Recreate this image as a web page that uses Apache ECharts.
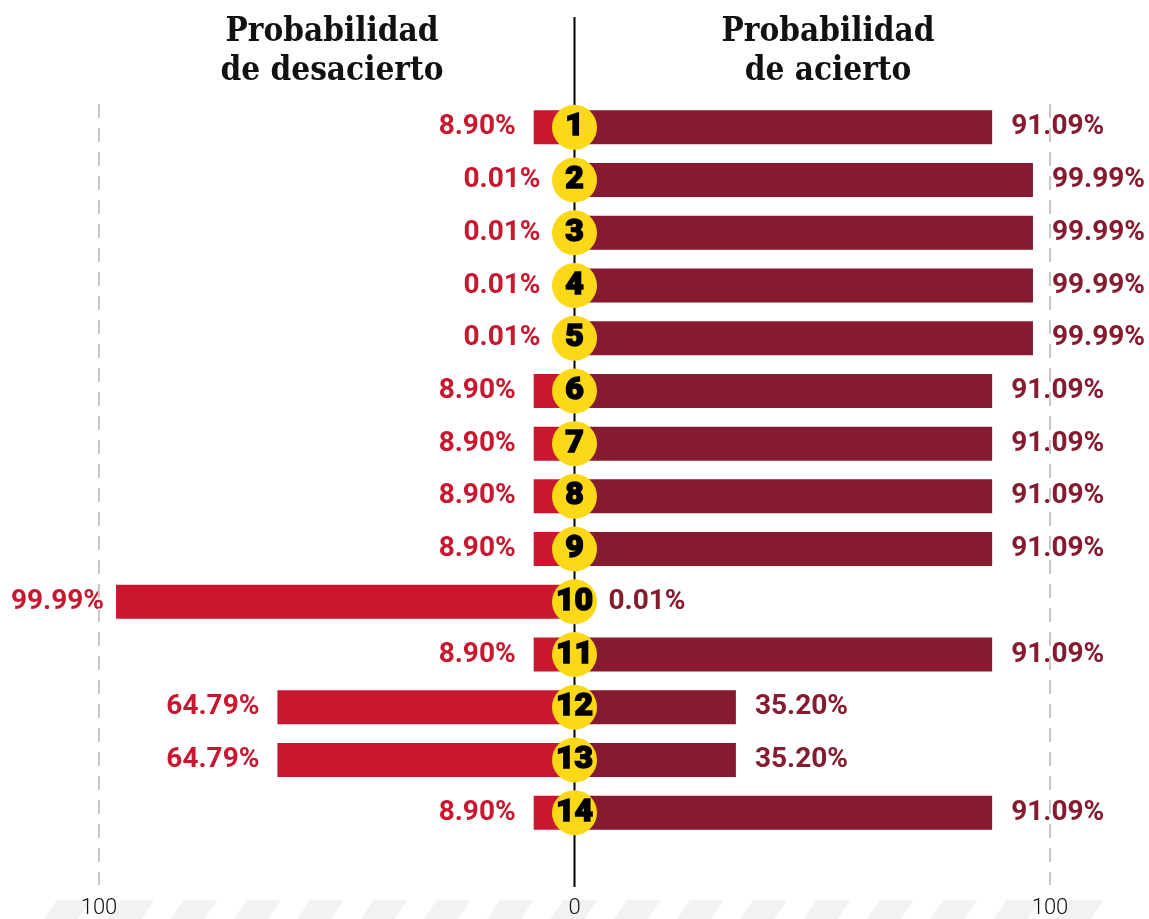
<!DOCTYPE html>
<html>
<head>
<meta charset="utf-8">
<script src="https://cdn.jsdelivr.net/npm/echarts@6/dist/echarts.min.js"></script>
<style>
  html, body { margin: 0; padding: 0; background: #fff; }
  #main { width: 1149px; height: 919px; }
</style>
</head>
<body>
<div id="main"></div>
<script>
// filas 1..14
const categories = ['1', '2', '3', '4', '5', '6', '7', '8', '9', '10', '11', '12', '13', '14'];
const acierto = [91.09, 99.99, 99.99, 99.99, 99.99, 91.09, 91.09, 91.09, 91.09, 0.01, 91.09, 35.20, 35.20, 91.09];
const desacierto = [8.90, 0.01, 0.01, 0.01, 0.01, 8.90, 8.90, 8.90, 8.90, 99.99, 8.90, 64.79, 64.79, 8.90];
const scaleTicks = [-100, 0, 100];

const RED = '#c8172f';
const MAROON = '#861a2f';
const YELLOW = '#fdd816';

const chart = echarts.init(document.getElementById('main'));

function pct(v) {
  return Math.abs(v).toFixed(2) + '%';
}

// etiquetas pegadas al circulo cuando la barra es casi cero
function labelDist(v, near, far) {
  return Math.abs(v) < 1 ? far : near;
}

const titleStyle = {
  fontFamily: 'DejaVu Serif Condensed',
  fontWeight: 'bold',
  fontSize: 33,
  lineHeight: 39,
  color: '#111'
};

const option = {
  animation: false,
  backgroundColor: '#fff',
  title: [{
    text: 'Probabilidad\nde desacierto',
    left: 327,
    top: 8,
    textAlign: 'center',
    textStyle: titleStyle
  }, {
    text: 'Probabilidad\nde acierto',
    left: 823,
    top: 8,
    textAlign: 'center',
    textStyle: titleStyle
  }],
  grid: [
    { left: 116, right: 116, top: 101, bottom: 80 },
    { left: 99, right: 99, top: 104, bottom: 32 }
  ],
  xAxis: [{
    gridIndex: 0,
    type: 'value',
    min: -100,
    max: 100,
    show: false
  }, {
    gridIndex: 1,
    type: 'value',
    min: scaleTicks[0],
    max: scaleTicks[scaleTicks.length - 1],
    interval: 100,
    z: 5,
    axisLine: { show: false },
    axisTick: { show: false },
    axisLabel: {
      margin: 12,
      fontFamily: 'Roboto',
      fontWeight: 300,
      fontSize: 22,
      color: '#111',
      formatter: function (v) { return Math.abs(v); }
    },
    splitLine: {
      show: true,
      // la del cero la tapa la linea central
      lineStyle: { color: ['#c8c8c8', 'rgba(0,0,0,0)', '#c8c8c8'], width: 2, type: [14, 10] }
    }
  }],
  yAxis: [{
    gridIndex: 0,
    type: 'category',
    data: categories,
    inverse: true,
    show: false
  }, {
    gridIndex: 1,
    type: 'value',
    show: false
  }],
  series: [{
    name: 'Probabilidad de desacierto',
    type: 'bar',
    stack: 'prob',
    barWidth: 34,
    itemStyle: { color: RED },
    data: desacierto.map(v => ({
      value: -v,
      label: { distance: v > 90 ? 12 : labelDist(v, 18, 34) }
    })),
    label: {
      show: true,
      position: 'left',
      color: RED,
      fontFamily: 'Roboto',
      fontWeight: 'bold',
      fontSize: 28,
      formatter: p => pct(p.value)
    }
  }, {
    name: 'Probabilidad de acierto',
    type: 'bar',
    stack: 'prob',
    barWidth: 34,
    itemStyle: { color: MAROON },
    data: acierto.map(v => ({
      value: v,
      label: { distance: labelDist(v, 19, 34) }
    })),
    label: {
      show: true,
      position: 'right',
      color: MAROON,
      fontFamily: 'Roboto',
      fontWeight: 'bold',
      fontSize: 28,
      formatter: p => pct(p.value)
    }
  }, {
    name: 'numero',
    type: 'scatter',
    z: 4,
    symbolSize: 45,
    itemStyle: { color: YELLOW, opacity: 1 },
    data: categories.map(c => [0, c]),
    label: {
      show: true,
      position: 'inside',
      color: '#000',
      fontFamily: 'Roboto',
      fontWeight: 900,
      fontSize: 32,
      textBorderColor: '#000',
      textBorderWidth: 1.5,
      formatter: p => p.value[1]
    }
  }]
};

chart.setOption(option);

// linea central y franjas del pie
const x0 = chart.convertToPixel({ xAxisIndex: 1 }, 0);
const graphics = [{
  type: 'line',
  z: 1,
  shape: { x1: x0, y1: 17, x2: x0, y2: 887 },
  style: { stroke: '#000', lineWidth: 2 }
}];
for (let k = 0; k < 17; k++) {
  const x = 57 + k * 63.3;
  graphics.push({
    type: 'polygon',
    z: 0,
    shape: { points: [[x, 900], [x + 34, 900], [x + 21, 919], [x - 13, 919]] },
    style: { fill: '#f2f2f2' }
  });
}
chart.setOption({ graphic: graphics });
</script>
</body>
</html>
